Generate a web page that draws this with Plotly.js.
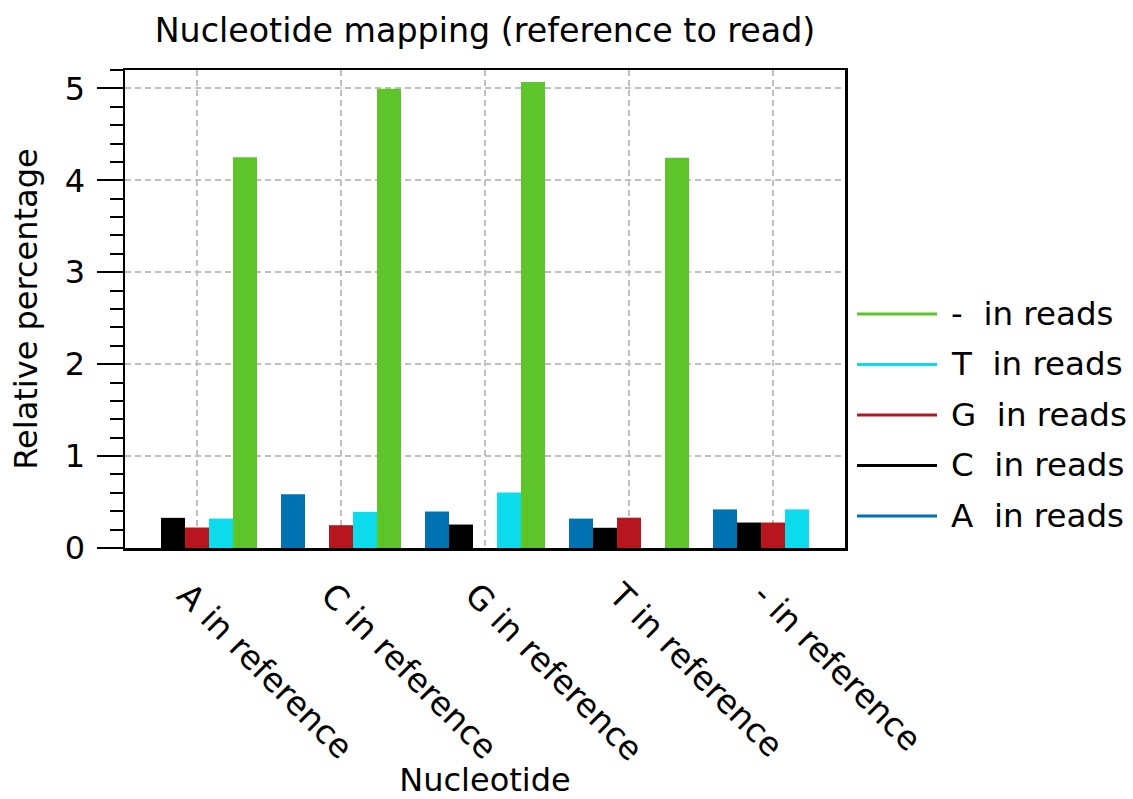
<!DOCTYPE html>
<html>
<head>
<meta charset="utf-8">
<script src="https://cdn.plot.ly/plotly-3.0.1.min.js"></script>
<style>
  html, body { margin: 0; padding: 0; background: #fff; }
  #chart { width: 1133px; height: 799px; }
</style>
</head>
<body>
<div id="chart"></div>
<script>
// Reference nucleotides (x categories)
const categories = ["A in reference", "C in reference", "G in reference", "T in reference", "- in reference"];

// Read nucleotides (one bar series each), values in percent per reference nucleotide
const seriesNames = ["A  in reads", "C  in reads", "G  in reads", "T  in reads", "-  in reads"];
const aInReads    = [0,     0.585, 0.397, 0.32,  0.42];
const cInReads    = [0.328, 0,     0.255, 0.22,  0.277];
const gInReads    = [0.223, 0.248, 0,     0.33,  0.277];
const tInReads    = [0.32,  0.393, 0.603, 0,     0.42];
const gapInReads  = [4.252, 4.995, 5.07,  4.245, 0];
const seriesValues = [aInReads, cInReads, gInReads, tInReads, gapInReads];
const seriesColors = ["#0072b2", "#000000", "#b8161e", "#0cdbee", "#5dc52a"];

const FONT = "DejaVu Sans, sans-serif";
const FS = 32;

const traces = seriesNames.map((name, i) => ({
  type: "bar",
  name: name,
  x: categories,
  y: seriesValues[i],
  marker: { color: seriesColors[i], line: { width: 0 } },
  showlegend: false,
  hoverinfo: "x+y+name"
}));

// Key on the right: line samples with labels, last series on top
const shapes = [];
const annotations = [];
const keyTop = 0.4895, keyStep = 0.1056;
for (let k = 0; k < seriesNames.length; k++) {
  const i = seriesNames.length - 1 - k;
  const yk = keyTop - k * keyStep;
  shapes.push({
    type: "line", xref: "paper", yref: "paper",
    x0: 1.0167, x1: 1.1278, y0: yk, y1: yk,
    line: { color: seriesColors[i], width: 3 }
  });
  annotations.push({
    xref: "paper", yref: "paper", x: 1.145, y: yk,
    xanchor: "left", yanchor: "middle", showarrow: false,
    text: seriesNames[i].replace("  ", "\u00a0 "),
    font: { family: FONT, size: 32.5, color: "#000" }
  });
}

const layout = {
  width: 1133,
  height: 799,
  margin: { l: 125, r: 288, t: 70, b: 251 },
  paper_bgcolor: "#ffffff",
  plot_bgcolor: "#ffffff",
  font: { family: FONT, size: FS, color: "#000" },
  barmode: "group",
  bargap: 0.1667,
  bargroupgap: 0,
  showlegend: false,
  title: {
    text: "Nucleotide mapping (reference to read)",
    font: { family: FONT, size: 33.3, color: "#000" },
    x: 0.5, xref: "paper", xanchor: "center",
    y: 0.977, yref: "container", yanchor: "top"
  },
  xaxis: {
    type: "category",
    title: { text: "Nucleotide", font: { family: FONT, size: FS }, standoff: 2 },
    tickangle: 45,
    ticks: "",
    ticklabelstandoff: 12,
    ticklabelshift: -10,
    showline: true, mirror: true, linecolor: "#000", linewidth: 2.5,
    showgrid: true, gridcolor: "#c0c0c0", gridwidth: 2, griddash: "6px,4px",
    tickfont: { family: FONT, size: 33 },
    automargin: false
  },
  yaxis: {
    title: { text: "Relative percentage", font: { family: FONT, size: FS }, standoff: 18 },
    range: [0, 5.2],
    dtick: 1,
    tick0: 0,
    ticks: "outside", ticklen: 26, tickwidth: 2, tickcolor: "#000",
    minor: { dtick: 0.2, ticks: "outside", ticklen: 13, tickwidth: 2, tickcolor: "#000", showgrid: false },
    ticklabelstandoff: 5,
    showline: true, mirror: true, linecolor: "#000", linewidth: 2.5,
    showgrid: true, gridcolor: "#c0c0c0", gridwidth: 2, griddash: "6px,4px",
    zeroline: false,
    tickfont: { family: FONT, size: FS },
    automargin: false
  },
  shapes: shapes,
  annotations: annotations
};

Plotly.newPlot("chart", traces, layout, { displayModeBar: false, staticPlot: true });
</script>
</body>
</html>
